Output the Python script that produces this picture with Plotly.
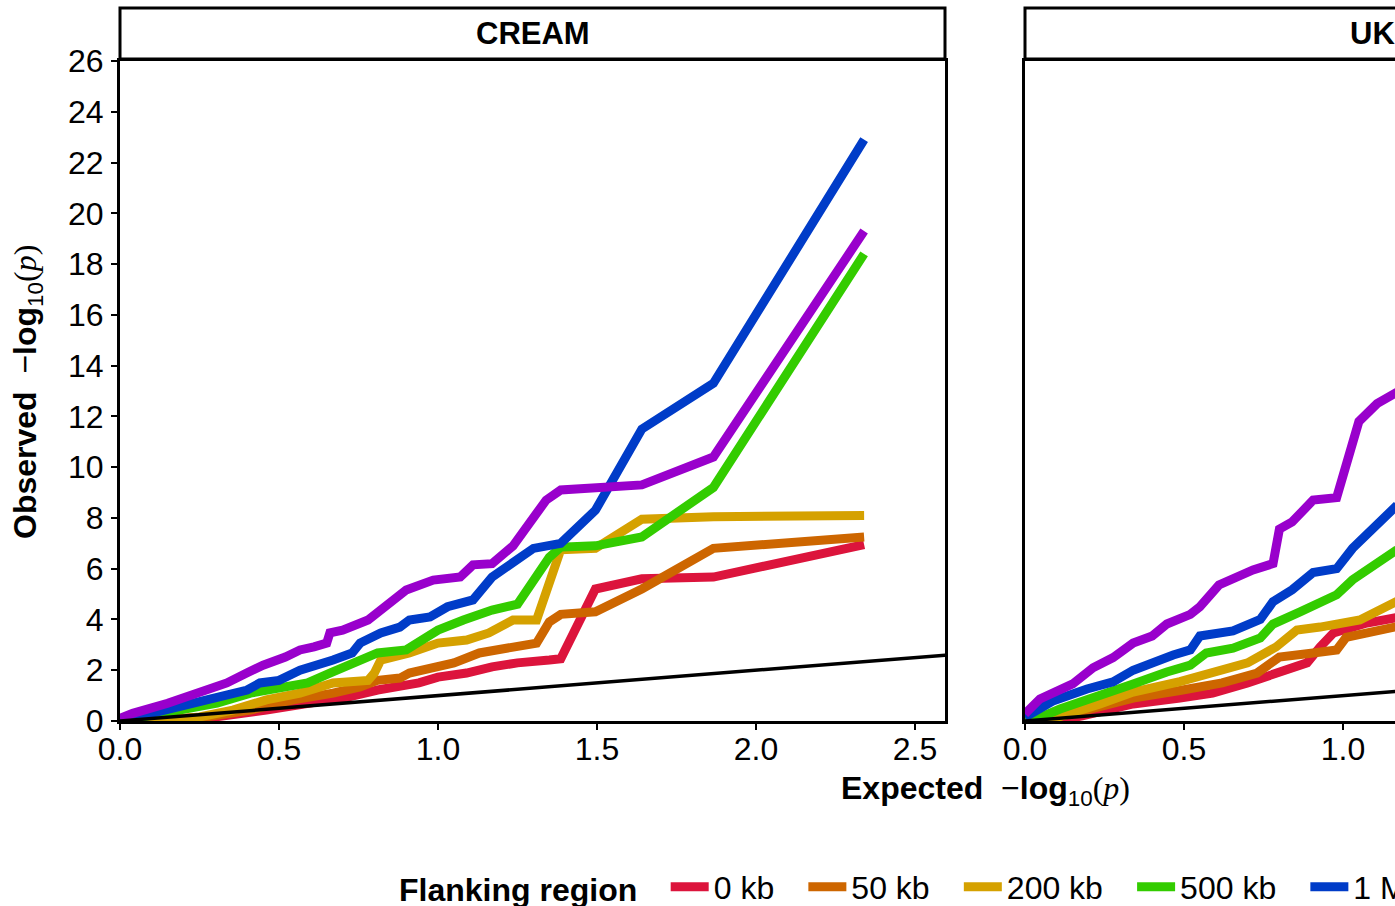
import plotly.graph_objects as go

# ---------------- data ----------------
series_names = ["0 kb", "50 kb", "200 kb", "500 kb", "1 Mb", "2 Mb"]
series_colors = ["#DC143C", "#CD6600", "#D5A100", "#33CC00", "#003CC8", "#9900CC"]
panel_titles = ["CREAM", "UK Biobank"]

# CREAM panel (expected, observed -log10 p)
cream_x_0kb = [0.0, 0.30, 0.46, 0.62, 0.72, 0.81, 0.88, 0.94, 1.00, 1.09, 1.17, 1.25, 1.35, 1.386, 1.495, 1.641, 1.866, 2.34]
cream_y_0kb = [0.0, 0.16, 0.43, 0.70, 0.95, 1.22, 1.34, 1.50, 1.73, 1.89, 2.13, 2.29, 2.40, 2.45, 5.20, 5.60, 5.67, 6.95]

cream_x_50kb = [0.0, 0.25, 0.41, 0.545, 0.67, 0.755, 0.81, 0.88, 0.91, 0.985, 1.05, 1.13, 1.236, 1.31, 1.35, 1.386, 1.495, 1.641, 1.866, 2.34]
cream_y_50kb = [0.0, 0.12, 0.43, 0.83, 1.10, 1.34, 1.60, 1.69, 1.89, 2.13, 2.29, 2.68, 2.92, 3.07, 3.90, 4.20, 4.30, 5.20, 6.80, 7.25]

cream_x_200kb = [0.0, 0.15, 0.25, 0.355, 0.46, 0.566, 0.67, 0.78, 0.80, 0.82, 0.91, 1.0, 1.09, 1.16, 1.236, 1.31, 1.386, 1.495, 1.641, 1.866, 2.34]
cream_y_200kb = [0.0, 0.04, 0.16, 0.43, 0.83, 1.10, 1.50, 1.60, 1.89, 2.40, 2.68, 3.07, 3.19, 3.47, 3.98, 3.98, 6.75, 6.80, 7.95, 8.05, 8.10]

cream_x_500kb = [0.0, 0.04, 0.15, 0.305, 0.41, 0.50, 0.59, 0.66, 0.73, 0.81, 0.90, 0.95, 1.0, 1.08, 1.17, 1.25, 1.35, 1.386, 1.495, 1.641, 1.866, 2.34]
cream_y_500kb = [0.0, 0.10, 0.30, 0.70, 1.10, 1.34, 1.50, 1.89, 2.29, 2.68, 2.80, 3.19, 3.58, 3.98, 4.37, 4.60, 6.45, 6.85, 6.90, 7.25, 9.20, 18.40]

cream_x_1mb = [0.0, 0.15, 0.25, 0.40, 0.44, 0.50, 0.566, 0.607, 0.67, 0.73, 0.755, 0.82, 0.88, 0.91, 0.975, 1.03, 1.11, 1.17, 1.30, 1.386, 1.495, 1.641, 1.866, 2.34]
cream_y_1mb = [0.0, 0.43, 0.70, 1.22, 1.50, 1.60, 2.00, 2.13, 2.40, 2.68, 3.07, 3.47, 3.70, 3.98, 4.10, 4.50, 4.77, 5.67, 6.80, 7.00, 8.30, 11.50, 13.30, 22.90]

cream_x_2mb = [0.0, 0.04, 0.15, 0.25, 0.336, 0.40, 0.45, 0.52, 0.566, 0.61, 0.65, 0.66, 0.70, 0.78, 0.82, 0.86, 0.90, 0.985, 1.07, 1.11, 1.17, 1.236, 1.34, 1.386, 1.495, 1.641, 1.866, 2.34]
cream_y_2mb = [0.10, 0.30, 0.70, 1.10, 1.50, 1.90, 2.20, 2.52, 2.80, 2.92, 3.07, 3.47, 3.58, 3.98, 4.37, 4.77, 5.16, 5.55, 5.67, 6.15, 6.20, 6.90, 8.70, 9.10, 9.20, 9.30, 10.40, 19.30]

# UK Biobank panel (visible part)
uk_x_0kb = [0.0, 0.09, 0.18, 0.34, 0.487, 0.59, 0.70, 0.80, 0.887, 0.928, 0.97, 1.075, 1.17]
uk_y_0kb = [0.0, 0.0, 0.20, 0.67, 0.90, 1.10, 1.50, 1.89, 2.29, 2.92, 3.47, 3.86, 4.08]

uk_x_50kb = [0.0, 0.08, 0.18, 0.34, 0.487, 0.62, 0.73, 0.80, 0.906, 0.98, 1.01, 1.17]
uk_y_50kb = [0.0, 0.10, 0.39, 0.90, 1.20, 1.50, 1.89, 2.52, 2.68, 2.80, 3.30, 3.72]

uk_x_200kb = [0.0, 0.09, 0.236, 0.34, 0.487, 0.62, 0.70, 0.79, 0.855, 0.928, 1.053, 1.17]
uk_y_200kb = [0.0, 0.10, 0.67, 1.14, 1.55, 2.00, 2.29, 2.92, 3.58, 3.70, 3.98, 4.72]

uk_x_500kb = [0.0, 0.04, 0.11, 0.236, 0.34, 0.446, 0.52, 0.57, 0.654, 0.74, 0.78, 0.865, 0.928, 0.98, 1.03, 1.094, 1.17]
uk_y_500kb = [0.0, 0.10, 0.47, 1.06, 1.46, 1.93, 2.20, 2.68, 2.87, 3.27, 3.82, 4.30, 4.70, 4.97, 5.56, 6.10, 6.75]

uk_x_1mb = [0.0, 0.09, 0.195, 0.277, 0.34, 0.40, 0.466, 0.52, 0.55, 0.654, 0.74, 0.78, 0.84, 0.906, 0.98, 1.03, 1.094, 1.17]
uk_y_1mb = [0.15, 0.80, 1.26, 1.54, 2.00, 2.30, 2.60, 2.80, 3.35, 3.55, 4.00, 4.70, 5.17, 5.85, 6.00, 6.80, 7.56, 8.50]

uk_x_2mb = [0.0, 0.047, 0.15, 0.214, 0.277, 0.34, 0.40, 0.446, 0.52, 0.55, 0.61, 0.717, 0.78, 0.80, 0.84, 0.906, 0.98, 1.05, 1.107, 1.17]
uk_y_2mb = [0.28, 0.87, 1.46, 2.10, 2.50, 3.07, 3.35, 3.82, 4.20, 4.50, 5.36, 5.95, 6.20, 7.56, 7.84, 8.70, 8.80, 11.80, 12.50, 12.95]

null_x = [0.0, 3.0]
null_y = [0.0, 3.0]

y_ticks = [0, 2, 4, 6, 8, 10, 12, 14, 16, 18, 20, 22, 24, 26]
x_ticks = [0.0, 0.5, 1.0, 1.5, 2.0, 2.5]

cream_x = [cream_x_0kb, cream_x_50kb, cream_x_200kb, cream_x_500kb, cream_x_1mb, cream_x_2mb]
cream_y = [cream_y_0kb, cream_y_50kb, cream_y_200kb, cream_y_500kb, cream_y_1mb, cream_y_2mb]
uk_x = [uk_x_0kb, uk_x_50kb, uk_x_200kb, uk_x_500kb, uk_x_1mb, uk_x_2mb]
uk_y = [uk_y_0kb, uk_y_50kb, uk_y_200kb, uk_y_500kb, uk_y_1mb, uk_y_2mb]

# ---------------- layout geometry ----------------
W, H = 1860, 906
ML, MR, MT, MB = 120, 10, 61, 185
PW = W - ML - MR          # plot area width
PH = H - MT - MB          # plot area height
P1 = (0.0, 825 / PW)
P2 = (905 / PW, 1.0)
X_MAX = 825 / 318.0
FONT = "Liberation Sans, Arial, sans-serif"
ITEM_PAD = "\u00a0\u00a0\u2009"
TITLE_PAD = "\u00a0\u00a0\u200a"

fig = go.Figure()

for i, name in enumerate(series_names):
    fig.add_trace(go.Scatter(x=cream_x[i], y=cream_y[i], mode="lines", name=name + ITEM_PAD,
                             legendgroup=name, showlegend=True,
                             line=dict(color=series_colors[i], width=9),
                             xaxis="x", yaxis="y"))
fig.add_trace(go.Scatter(x=null_x, y=null_y, mode="lines", showlegend=False,
                         line=dict(color="black", width=3.5), xaxis="x", yaxis="y"))
for i, name in enumerate(series_names):
    fig.add_trace(go.Scatter(x=uk_x[i], y=uk_y[i], mode="lines", name=name + ITEM_PAD,
                             legendgroup=name, showlegend=False,
                             line=dict(color=series_colors[i], width=9),
                             xaxis="x2", yaxis="y2"))
fig.add_trace(go.Scatter(x=null_x, y=null_y, mode="lines", showlegend=False,
                         line=dict(color="black", width=3.5), xaxis="x2", yaxis="y2"))

axis_common = dict(showgrid=False, zeroline=False, showline=True, linecolor="black",
                   linewidth=3, mirror=True, tickfont=dict(family=FONT, size=32, color="black"))

fig.update_layout(
    width=W, height=H,
    margin=dict(l=ML, r=MR, t=MT, b=MB, autoexpand=False),
    paper_bgcolor="white", plot_bgcolor="white",
    font=dict(family=FONT, size=32, color="black"),
    xaxis=dict(domain=list(P1), range=[0, X_MAX], tickvals=x_ticks, tickformat=".1f",
               ticks="outside", ticklen=6, tickwidth=2, tickcolor="black",
               ticklabelstandoff=-8, anchor="y", **axis_common),
    yaxis=dict(domain=[0, 1], range=[0, 26], tickvals=y_ticks,
               ticks="outside", ticklen=6, tickwidth=2, tickcolor="black",
               ticklabelstandoff=1, anchor="x", **axis_common),
    xaxis2=dict(domain=list(P2), range=[0, X_MAX], tickvals=x_ticks, tickformat=".1f",
                ticks="outside", ticklen=6, tickwidth=2, tickcolor="black",
                ticklabelstandoff=-8, anchor="y2", **axis_common),
    yaxis2=dict(domain=[0, 1], range=[0, 26], tickvals=y_ticks, showticklabels=False,
                ticks="", anchor="x2", matches="y", **axis_common),
    legend=dict(orientation="h", x=(397 - ML) / PW, xanchor="left",
                y=(PH - (887 - MT)) / PH, yanchor="middle",
                font=dict(family=FONT, size=32, color="black"),
                title=dict(text="Flanking region" + TITLE_PAD,
                           font=dict(family=FONT, size=32, weight=700)),
                itemwidth=38, bgcolor="rgba(0,0,0,0)", traceorder="normal"),
)

# facet strips
strip_top = (PH + MT - 8) / PH
for (d0, d1), title in zip([P1, P2], panel_titles):
    fig.add_shape(type="rect", xref="paper", yref="paper", x0=d0, x1=d1,
                  y0=1 + 2 / PH, y1=strip_top, line=dict(color="black", width=3),
                  fillcolor="white", layer="above")
    fig.add_annotation(xref="paper", yref="paper", x=(d0 + d1) / 2,
                       y=(1 + 2 / PH + strip_top) / 2, text=title, showarrow=False,
                       font=dict(family=FONT, size=31, weight=700, color="black"),
                       xanchor="center", yanchor="middle")

serif = "font-family:'Liberation Serif','Times New Roman',serif"
axis_label = ("<b>{}</b>  \u2212<b>log</b><sub>10</sub>"
              f"<span style=\"{serif}\">(<i>p</i>)</span>")
fig.add_annotation(xref="paper", yref="paper", x=0.5, y=(PH - (790 - MT)) / PH,
                   text=axis_label.format("Expected"),
                   showarrow=False, xanchor="center", yanchor="middle",
                   font=dict(family=FONT, size=32, color="black"))
fig.add_annotation(xref="paper", yref="paper", x=(28 - ML) / PW, y=(PH - (392 - MT)) / PH,
                   text=axis_label.format("Observed"),
                   textangle=-90, showarrow=False, xanchor="center", yanchor="middle",
                   font=dict(family=FONT, size=32, color="black"))

fig.write_html("out.html",
               post_script="document.documentElement.style.overflow='hidden';"
                           "document.body.style.overflow='hidden';"
                           "document.body.style.margin='0';")
